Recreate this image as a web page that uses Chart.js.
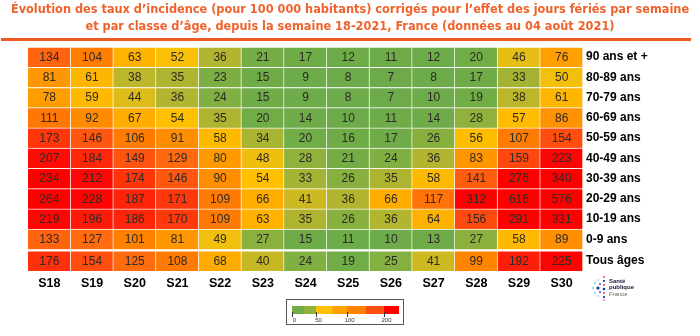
<!DOCTYPE html>
<html lang="fr">
<head>
<meta charset="utf-8">
<script src="https://cdn.jsdelivr.net/npm/chart.js@4.4.1/dist/chart.umd.min.js"></script>
<style>
  html, body { margin: 0; padding: 0; background: #fff; }
  #wrap { width: 700px; height: 336px; position: relative; }
</style>
</head>
<body>
<div id="wrap"><canvas id="heat"></canvas></div>
<script>
// Taux d'incidence corrigés, semaines S18 -> S30 (2021)
const weeks = ["S18", "S19", "S20", "S21", "S22", "S23", "S24", "S25", "S26", "S27", "S28", "S29", "S30"];

// classes d'âge, de haut en bas
const ageGroups = ["90 ans et +", "80-89 ans", "70-79 ans", "60-69 ans", "50-59 ans", "40-49 ans",
  "30-39 ans", "20-29 ans", "10-19 ans", "0-9 ans", "Tous âges"];

const age90plus = [134, 104, 63, 52, 36, 21, 17, 12, 11, 12, 20, 46, 76];
const age80_89 = [81, 61, 38, 35, 23, 15, 9, 8, 7, 8, 17, 33, 50];
const age70_79 = [78, 59, 44, 36, 24, 15, 9, 8, 7, 10, 19, 38, 61];
const age60_69 = [111, 92, 67, 54, 35, 20, 14, 10, 11, 14, 28, 57, 86];
const age50_59 = [173, 146, 106, 91, 58, 34, 20, 16, 17, 26, 56, 107, 154];
const age40_49 = [207, 184, 149, 129, 80, 48, 28, 21, 24, 36, 83, 159, 223];
const age30_39 = [234, 212, 174, 146, 90, 54, 33, 26, 35, 58, 141, 276, 340];
const age20_29 = [264, 228, 187, 171, 109, 66, 41, 36, 66, 117, 312, 616, 576];
const age10_19 = [219, 196, 186, 170, 109, 63, 35, 26, 36, 64, 156, 291, 331];
const age0_9 = [133, 127, 101, 81, 49, 27, 15, 11, 10, 13, 27, 58, 89];
const allAges = [176, 154, 125, 108, 68, 40, 24, 19, 25, 41, 99, 192, 225];

const legendTicks = [0, 50, 100, 200];

const rowsTopDown = [age90plus, age80_89, age70_79, age60_69, age50_59, age40_49,
  age30_39, age20_29, age10_19, age0_9, allAges];

const TITLE_1 = "Évolution des taux d’incidence (pour 100 000 habitants) corrigés pour l’effet des jours fériés par semaine";
const TITLE_2 = "et par classe d’âge, depuis la semaine 18-2021, France (données au 04 août 2021)";
const TITLE_COLOR = "#f0622b";
const ROW_GAP = 0.07; // petit espace avant "Tous âges"

// palette vert -> jaune -> rouge
const colorStops = [
  [0, [108, 169, 76]], [20, [112, 173, 71]], [27, [140, 176, 62]], [37, [182, 181, 45]],
  [47, [236, 191, 18]], [54, [255, 192, 0]], [64, [255, 177, 0]], [80, [255, 153, 0]],
  [104, [255, 126, 0]], [130, [255, 104, 16]], [150, [255, 82, 16]], [180, [255, 44, 10]],
  [212, [255, 6, 6]], [240, [255, 0, 0]]
];

function cellColor(v) {
  if (v <= colorStops[0][0]) return `rgb(${colorStops[0][1].join(",")})`;
  for (let i = 1; i < colorStops.length; i++) {
    const [v1, c1] = colorStops[i];
    if (v <= v1) {
      const [v0, c0] = colorStops[i - 1];
      const t = (v - v0) / (v1 - v0);
      const c = c0.map((a, k) => Math.round(a + (c1[k] - a) * t));
      return `rgb(${c.join(",")})`;
    }
  }
  return `rgb(${colorStops[colorStops.length - 1][1].join(",")})`;
}

function makeRow(label, values) {
  return {
    label,
    values,
    data: values.map(() => 1),
    backgroundColor: values.map(cellColor),
    borderColor: "rgba(255,255,255,0.8)",
    borderWidth: { top: 1, right: 1, bottom: 0, left: 0 },
    borderSkipped: false,
    barPercentage: 1,
    categoryPercentage: 1,
  };
}

// empilement de bas en haut
const datasets = [makeRow(ageGroups[10], allAges)];
datasets.push({
  label: "",
  spacer: true,
  data: weeks.map(() => ROW_GAP),
  backgroundColor: "rgba(0,0,0,0)",
  borderWidth: 0,
  barPercentage: 1,
  categoryPercentage: 1,
});
for (let i = 9; i >= 0; i--) {
  datasets.push(makeRow(ageGroups[i], rowsTopDown[i]));
}

const rowCenters = ageGroups.map((g, i) => {
  const fromBottom = ageGroups.length - 1 - i;
  return fromBottom === 0 ? 0.5 : fromBottom + ROW_GAP + 0.5;
});

const cellLabels = {
  id: "cellLabels",
  afterDatasetsDraw(chart) {
    const { ctx } = chart;
    ctx.save();
    ctx.font = "12px Arial, 'Liberation Sans', sans-serif";
    ctx.fillStyle = "#2e2a26";
    ctx.textAlign = "center";
    ctx.textBaseline = "middle";
    chart.data.datasets.forEach((ds, di) => {
      if (ds.spacer) return;
      chart.getDatasetMeta(di).data.forEach((bar, i) => {
        ctx.fillText(String(ds.values[i]), bar.x, (bar.y + bar.base) / 2 + 0.5);
      });
    });
    ctx.restore();
  },
};

const decorations = {
  id: "decorations",
  afterDraw(chart) {
    const { ctx } = chart;
    ctx.save();

    // titre
    ctx.fillStyle = TITLE_COLOR;
    ctx.textAlign = "center";
    ctx.textBaseline = "middle";
    const fam = "'Liberation Sans Narrow', 'Arial Narrow', 'DejaVu Sans Condensed', Arial, sans-serif";
    ctx.font = `bold 15px ${fam}`;
    const w = ctx.measureText(TITLE_1).width;
    const size = Math.min(17, 15 * 678 / w);
    ctx.font = `bold ${size.toFixed(2)}px ${fam}`;
    ctx.fillText(TITLE_1, 350, 10);
    ctx.fillText(TITLE_2, 350, 27);

    // filet orange
    ctx.fillStyle = "#ee5a24";
    ctx.fillRect(1, 38, 690, 3);

    // légende couleur
    const lx1 = 399, ly = 306, lh = 8;
    ctx.strokeStyle = "#555";
    ctx.lineWidth = 1;
    ctx.strokeRect(286.5, 299.5, 117, 25);
    const segs = [
      [0, 25, "#70ad47"], [25, 50, "#8fb23e"], [50, 75, "#ffc000"], [75, 100, "#ffa200"],
      [100, 150, "#ff8400"], [150, 200, "#ff4e12"], [200, 250, "#ff0000"]
    ];
    const xFor = (v) => {
      // échelle non linéaire de la légende
      const anchors = [[0, 292], [50, 316], [100, 347], [200, 383.5], [250, 399]];
      for (let i = 1; i < anchors.length; i++) {
        if (v <= anchors[i][0]) {
          const [a0, p0] = anchors[i - 1];
          const [a1, p1] = anchors[i];
          return p0 + (p1 - p0) * (v - a0) / (a1 - a0);
        }
      }
      return lx1;
    };
    segs.forEach(([a, b, c]) => {
      ctx.fillStyle = c;
      ctx.fillRect(xFor(a), ly, xFor(b) - xFor(a), lh);
    });
    ctx.strokeStyle = "#333";
    ctx.fillStyle = "#333";
    ctx.font = "6px Arial, sans-serif";
    ctx.textAlign = "center";
    ctx.textBaseline = "top";
    legendTicks.forEach((t) => {
      const x = Math.round(xFor(t)) + 0.5;
      ctx.beginPath();
      ctx.moveTo(x, ly + lh - 2);
      ctx.lineTo(x, ly + lh + 3);
      ctx.stroke();
      ctx.fillText(String(t), x + 2, ly + lh + 3);
    });

    // logo Santé publique France (approximatif)
    const dots = [
      [604, 277, 0.9, "#e8336d"], [604, 281, 1.1, "#1b2f8f"], [604, 285, 1.0, "#e8336d"],
      [604, 289, 1.3, "#1b2f8f"], [604, 293, 1.0, "#e8336d"], [604, 297, 1.1, "#1b2f8f"],
      [604, 300, 0.8, "#e8336d"], [598, 288, 1.6, "#1b2f8f"], [600, 284, 1.0, "#2a5bd7"],
      [600, 292, 1.0, "#2a5bd7"], [595, 283, 0.9, "#6cc4ee"], [595, 293, 0.9, "#6cc4ee"],
      [593, 288, 1.0, "#6cc4ee"], [598, 280, 0.8, "#6cc4ee"], [598, 296, 0.8, "#6cc4ee"]
    ];
    dots.forEach(([x, y, r, c]) => {
      ctx.fillStyle = c;
      ctx.beginPath();
      ctx.arc(x, y, r, 0, Math.PI * 2);
      ctx.fill();
    });
    ctx.textAlign = "left";
    ctx.textBaseline = "middle";
    ctx.fillStyle = "#1a1a3a";
    ctx.font = "bold 6px Arial, sans-serif";
    ctx.fillText("Santé", 609, 281);
    ctx.fillText("publique", 609, 287.5);
    ctx.fillStyle = "#666";
    ctx.font = "6px Arial, sans-serif";
    ctx.fillText("France", 609, 294);

    ctx.restore();
  },
};

new Chart(document.getElementById("heat"), {
  type: "bar",
  data: { labels: weeks, datasets },
  options: {
    responsive: true,
    maintainAspectRatio: false,
    animation: false,
    layout: { padding: { left: 28, top: 47, right: 0, bottom: 0 } },
    plugins: {
      legend: { display: false },
      title: { display: false },
      tooltip: { enabled: false },
    },
    scales: {
      x: {
        stacked: true,
        grid: { display: false, drawTicks: false },
        border: { display: false },
        ticks: {
          color: "#000",
          padding: 5,
          font: { family: "Arial, 'Liberation Sans', sans-serif", size: 12.5, weight: "bold" },
          maxRotation: 0,
        },
        afterFit(scale) { scale.height = 65; },
      },
      y: {
        stacked: true,
        position: "right",
        min: 0,
        max: 10 + ROW_GAP + 1,
        grid: { display: false, drawTicks: false },
        border: { display: false },
        afterBuildTicks(axis) {
          axis.ticks = rowCenters.slice().reverse().map((v) => ({ value: v }));
        },
        ticks: {
          autoSkip: false,
          color: "#000",
          padding: 3,
          font: { family: "Arial, 'Liberation Sans', sans-serif", size: 12, weight: "bold" },
          callback(value) {
            const idx = rowCenters.findIndex((c) => Math.abs(c - value) < 1e-6);
            return idx >= 0 ? ageGroups[idx] : "";
          },
        },
        afterFit(scale) { scale.width = 117; },
      },
    },
  },
  plugins: [cellLabels, decorations],
});
</script>
</body>
</html>
